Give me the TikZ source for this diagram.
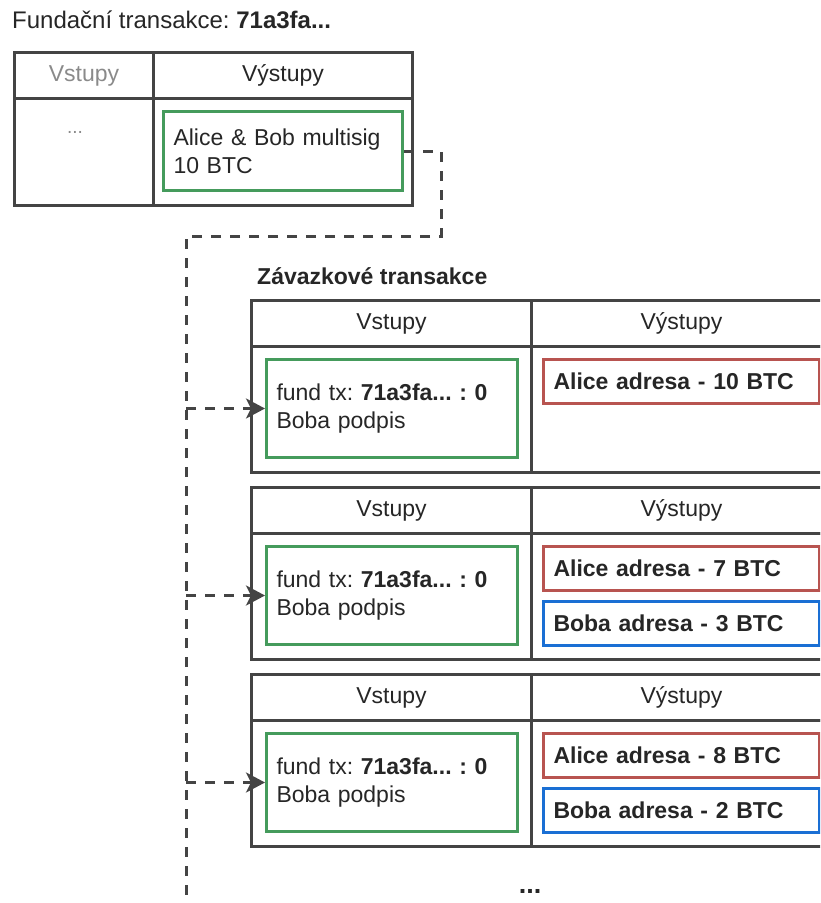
\documentclass[tikz,border=0pt]{standalone}
\usepackage{fontspec}
\setmainfont{Liberation Sans}
\usepackage{tikz}
\usetikzlibrary{arrows.meta,positioning,calc}
\definecolor{Frame}{HTML}{444444}
\definecolor{Muted}{HTML}{8A8A8A}
\definecolor{InGreen}{HTML}{459B5C}
\definecolor{AliceRed}{HTML}{B85450}
\definecolor{BobBlue}{HTML}{1A6FD4}
\tikzset{
  basefont/.style={font=\fontsize{23pt}{28pt}\selectfont\frenchspacing},
  cell/.style={draw=Frame, line width=3pt, anchor=north west, inner sep=0pt, basefont, text=black!85},
  inbox/.style={draw=InGreen, line width=3pt, fill=white, anchor=north west, align=left, text width=231pt, minimum height=98pt, inner sep=10pt, basefont, text=black!85},
  outbox/.style={line width=3pt, fill=white, anchor=north west, align=left, text width=256pt, minimum height=44pt, inner xsep=10pt, inner ysep=0pt, font=\fontsize{23pt}{28pt}\selectfont\bfseries\frenchspacing, text=black!85},
  alicebox/.style={outbox, draw=AliceRed},
  bobbox/.style={outbox, draw=BobBlue},
  title/.style={anchor=west, inner sep=0pt, basefont, text=black!85},
  link/.style={draw=Frame, line width=3pt, dash pattern=on 10pt off 9pt},
  linkarrow/.style={link, -{Stealth[length=19pt, width=20pt, inset=5pt]}}
}

\begin{document}
\begin{tikzpicture}[x=1pt, y=-1pt]
  \useasboundingbox (0,0) rectangle (820,903);
  \clip (0,0) rectangle (820,903);

  \node[title, font=\fontsize{24pt}{28pt}\selectfont\frenchspacing] (fundtitle) at (12,20) {Fundační transakce: \textbf{71a3fa...}};
  \node[cell, text=Muted, minimum width=139pt, minimum height=46pt] (fundhin) at (13,51) {Vstupy};
  \node[cell, minimum width=259pt, minimum height=46pt] (fundhout) at (152,51) {Výstupy};
  \node[cell, minimum width=139pt, minimum height=107pt] (fundbin) at (13,97) {};
  \node[cell, minimum width=259pt, minimum height=107pt] (fundbout) at (152,97) {};
  \node[text=Muted, font=\fontsize{19pt}{22pt}\selectfont, anchor=base] (funddots) at (75,133) {...};
  \node[inbox, text width=219pt, minimum height=79pt] (multisig) at (162,110) {Alice \& Bob multisig\\10 BTC};

  \node[title, font=\fontsize{23pt}{28pt}\selectfont\bfseries] (committitle) at (257,276) {Závazkové transakce};

  \node[cell, minimum width=280pt, minimum height=46pt] (hin1) at (250,299) {Vstupy};
  \node[cell, minimum width=300pt, minimum height=46pt] (hout1) at (530,299) {Výstupy};
  \node[cell, minimum width=280pt, minimum height=126pt] (bin1) at (250,345) {};
  \node[cell, minimum width=300pt, minimum height=126pt] (bout1) at (530,345) {};
  \node[inbox] (in1) at (265,358) {fund tx: \textbf{71a3fa... : 0}\\Boba podpis};
  \node[alicebox] (alice1) at (542,358) {Alice adresa - 10 BTC};

  \node[cell, minimum width=280pt, minimum height=46pt] (hin2) at (250,486) {Vstupy};
  \node[cell, minimum width=300pt, minimum height=46pt] (hout2) at (530,486) {Výstupy};
  \node[cell, minimum width=280pt, minimum height=126pt] (bin2) at (250,532) {};
  \node[cell, minimum width=300pt, minimum height=126pt] (bout2) at (530,532) {};
  \node[inbox] (in2) at (265,545) {fund tx: \textbf{71a3fa... : 0}\\Boba podpis};
  \node[alicebox] (alice2) at (542,545) {Alice adresa - 7 BTC};
  \node[bobbox] (bob2) at (542,600) {Boba adresa - 3 BTC};

  \node[cell, minimum width=280pt, minimum height=46pt] (hin3) at (250,673) {Vstupy};
  \node[cell, minimum width=300pt, minimum height=46pt] (hout3) at (530,673) {Výstupy};
  \node[cell, minimum width=280pt, minimum height=126pt] (bin3) at (250,719) {};
  \node[cell, minimum width=300pt, minimum height=126pt] (bout3) at (530,719) {};
  \node[inbox] (in3) at (265,732) {fund tx: \textbf{71a3fa... : 0}\\Boba podpis};
  \node[alicebox] (alice3) at (542,732) {Alice adresa - 8 BTC};
  \node[bobbox] (bob3) at (542,787) {Boba adresa - 2 BTC};

  \node[font=\fontsize{27pt}{30pt}\selectfont\bfseries, text=black!85, anchor=base] (more) at (530,893) {...};

  \coordinate (bend) at (441,236);
  \coordinate (trunk) at (186,236);
  \coordinate (trunkend) at (186,900);
  \draw[link] (multisig.east) -| (bend) -- (trunk) -- (trunkend);
  \draw[linkarrow] (trunk |- in1.west) -- (in1.west);
  \draw[linkarrow] (trunk |- in2.west) -- (in2.west);
  \draw[linkarrow] (trunk |- in3.west) -- (in3.west);
\end{tikzpicture}
\end{document}
